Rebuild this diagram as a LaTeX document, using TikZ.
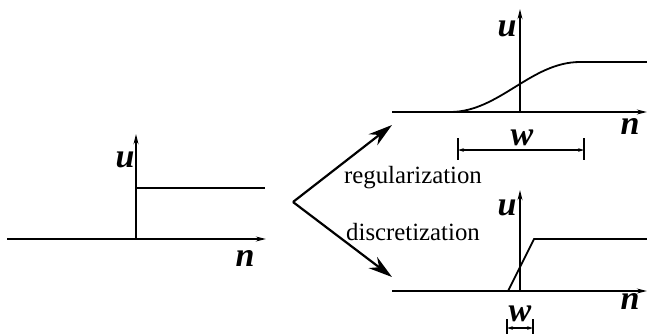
\documentclass[tikz,border=0pt]{standalone}
\usepackage{fontspec}
\setmainfont{Liberation Serif}
\usetikzlibrary{arrows.meta,positioning}

\begin{document}
\begin{tikzpicture}[
        x=0.5pt, y=-0.5pt,
    axis/.style={
        line width=1pt,
        -{Stealth[length=5pt,width=2.4pt]}},
    curve/.style={line width=0.9pt},
    myarrow/.style={
        line width=1.1pt,
        -{Stealth[length=12pt,width=7pt]}},
    dim/.style={
        line width=0.6pt,
        {Stealth[length=3pt,width=1.8pt]}-{Stealth[length=3pt,width=1.8pt]}},
    lbl/.style={font=\fontsize{17}{19}\selectfont\bfseries\itshape, inner sep=1pt},
    txt/.style={font=\fontsize{12.4}{14}\selectfont, inner sep=0pt}
    ]
    \useasboundingbox (0,0) rectangle (647,334);

    % step function
    \coordinate (s0) at (7,239);
    \coordinate (s1) at (266,239);
    \coordinate (so) at (136,239);
    \coordinate (st) at (136,134);
    \draw[axis] (s0) -- (s1);
    \draw[axis] (so) -- (st);
    \draw[curve] (136,188) -- (265,188);
    \node[lbl] (su) at (125,160) {u};
    \node[lbl] (sn) at (245,258) {n};

    % regularized profile
    \coordinate (r0) at (392,112);
    \coordinate (r1) at (647,112);
    \coordinate (ro) at (520,112);
    \coordinate (rt) at (520,9);
    \draw[axis] (r0) -- (r1);
    \draw[axis] (ro) -- (rt);
    \draw[curve] (450,112) to[out=0, in=180, looseness=0.9] (580,62) -- (647,62);
    \node[lbl] (ru) at (507,29) {u};
    \node[lbl] (rn) at (630,126) {n};
    \draw[line width=0.6pt] (458,138) -- (458,160) (584,138) -- (584,160);
    \draw[dim] (458,150) -- (584,150);
    \node[lbl] (rw) at (522,138) {w};

    % discretized profile
    \coordinate (d0) at (392,291);
    \coordinate (d1) at (647,291);
    \coordinate (do) at (520,291);
    \coordinate (dt) at (520,190);
    \draw[axis] (d0) -- (d1);
    \draw[axis] (do) -- (dt);
    \draw[curve] (508,291) -- (534,239) -- (647,239);
    \node[lbl] (du) at (507,208) {u};
    \node[lbl] (dn) at (630,301) {n};
    \draw[line width=0.6pt] (507,319) -- (507,334) (533,319) -- (533,334);
    \draw[dim] (507,328) -- (533,328);
    \node[lbl] (dw) at (520,314) {w};

    % branching arrows
    \coordinate (fork) at (293,202);
    \coordinate (up) at (392,125);
    \coordinate (down) at (392,277);
    \draw[myarrow] (fork) -- (up);
    \draw[myarrow] (fork) -- (down);
    \node[txt] (reg) at (413,178) {regularization};
    \node[txt] (dis) at (413,232) {discretization};
\end{tikzpicture}
\end{document}
